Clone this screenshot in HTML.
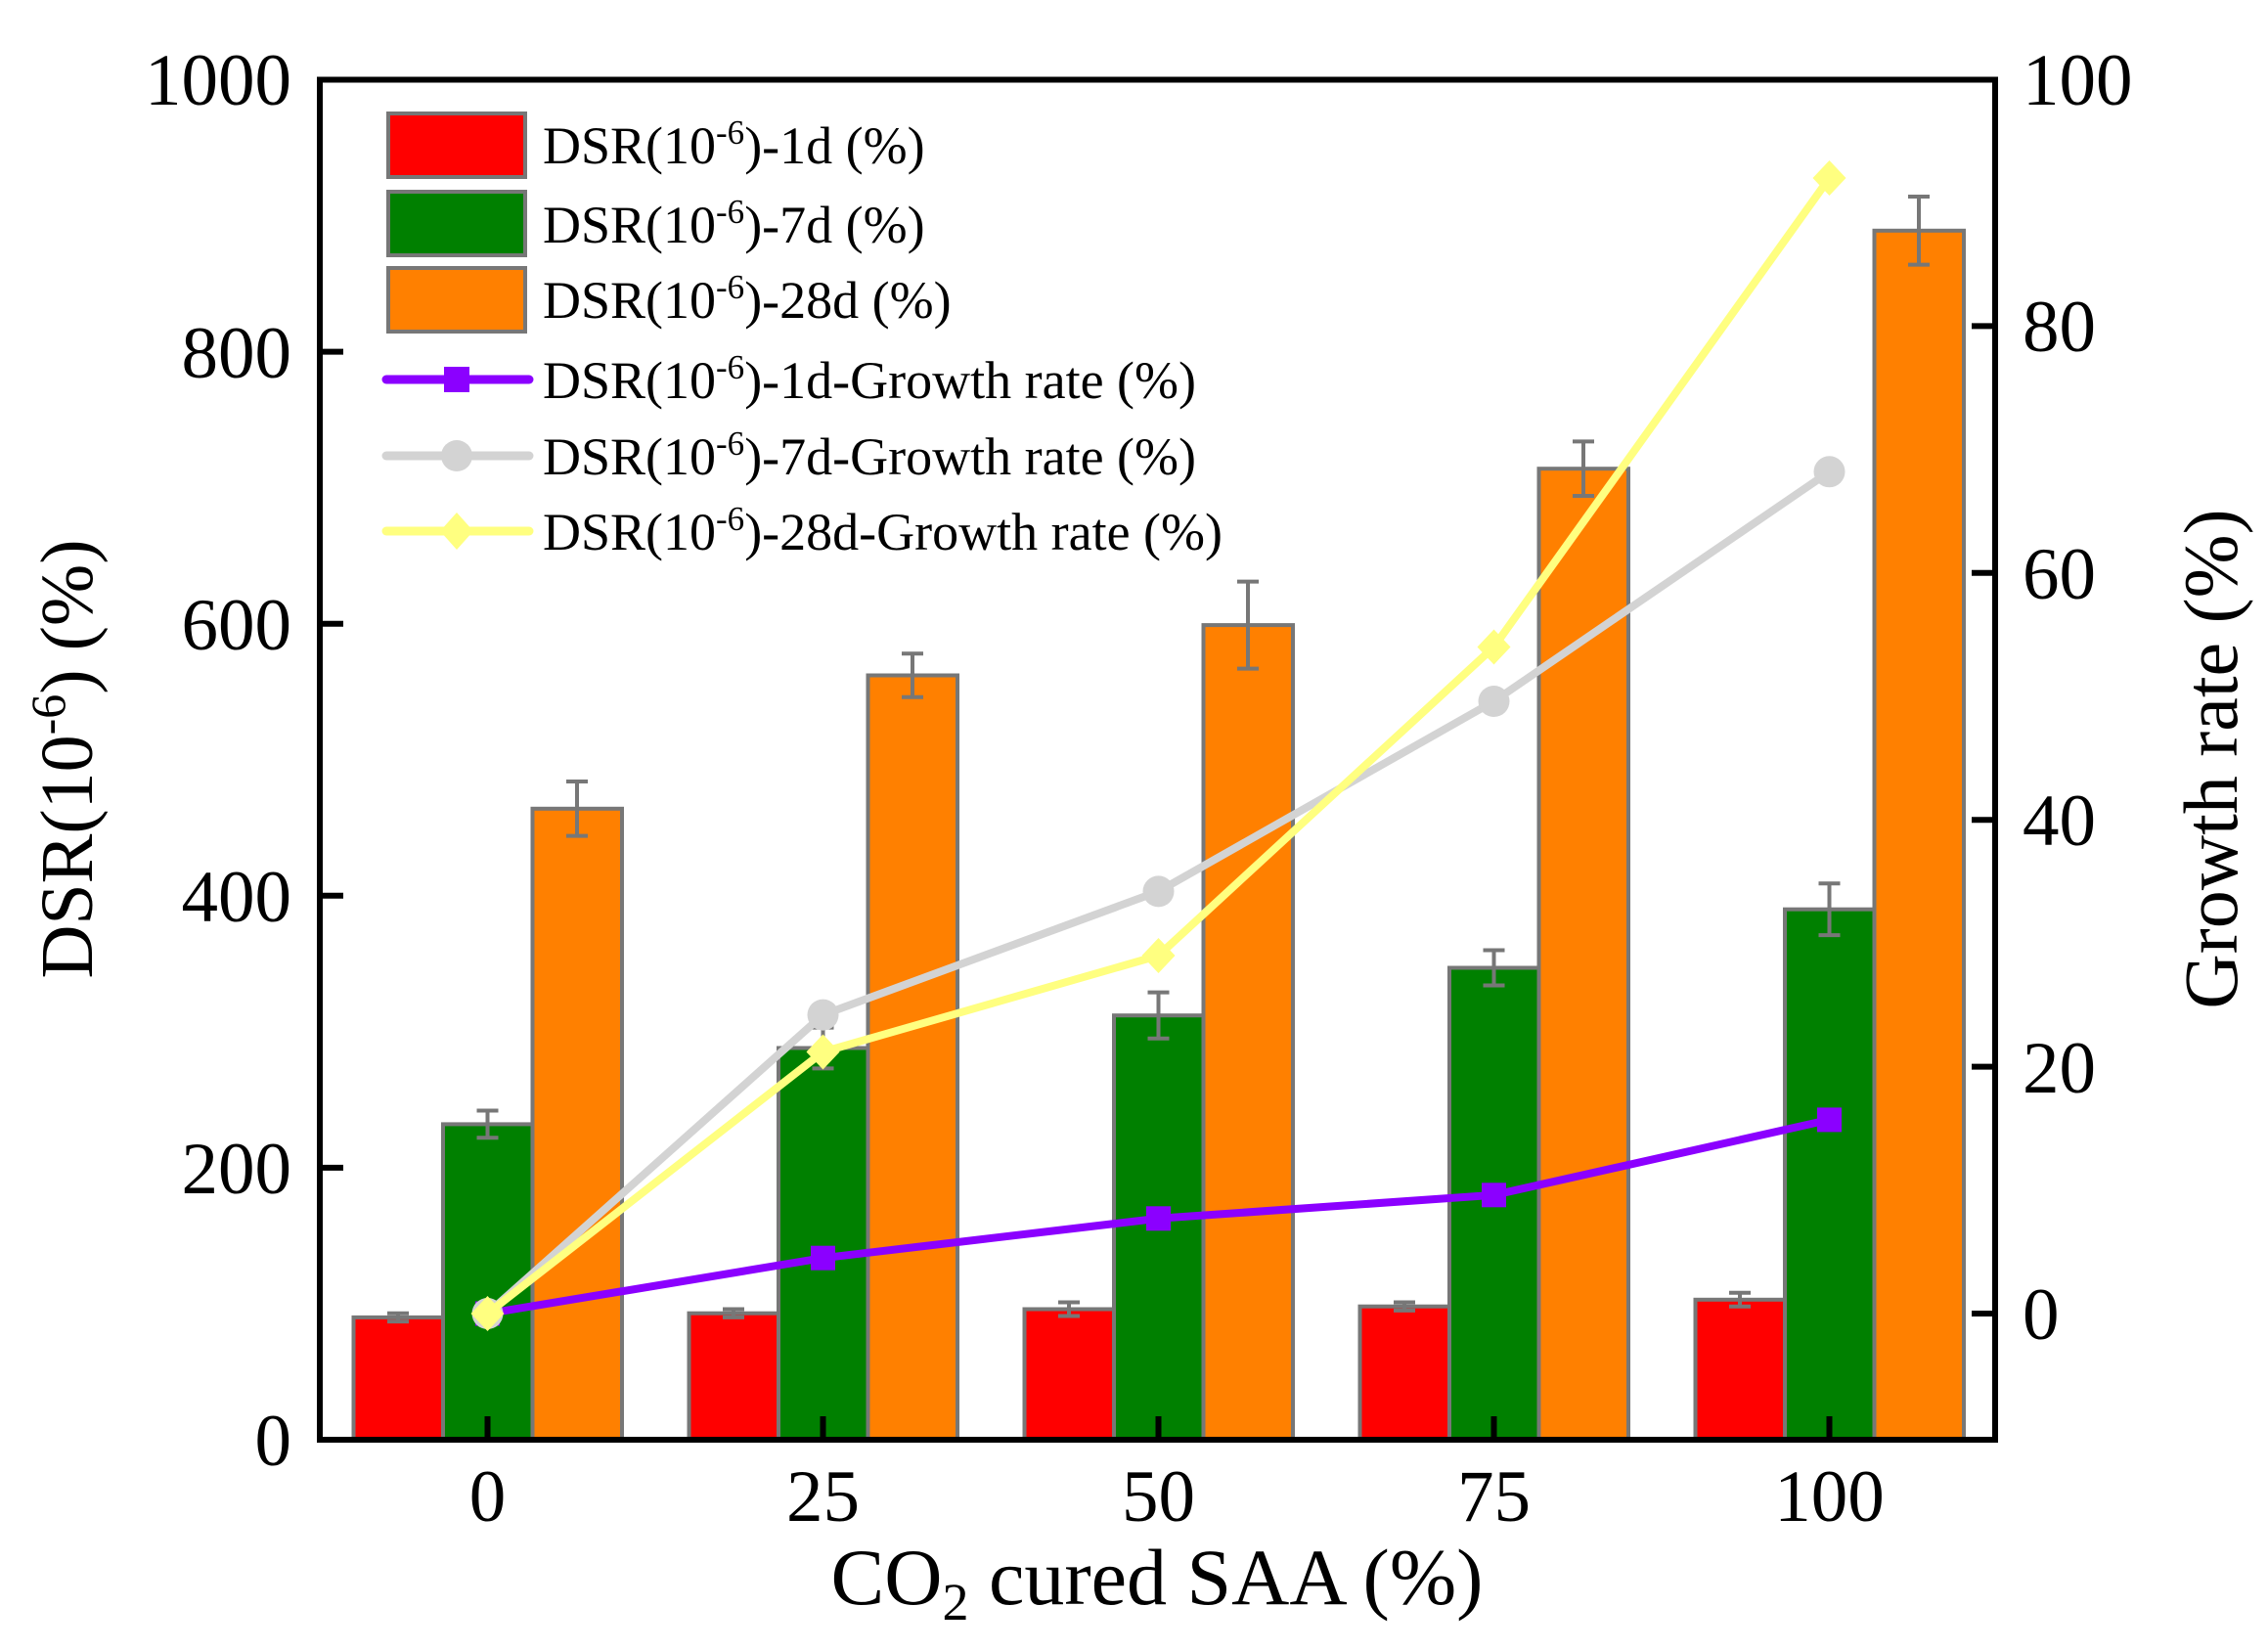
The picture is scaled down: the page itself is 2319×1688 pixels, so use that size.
<!DOCTYPE html>
<html><head><meta charset="utf-8"><style>
html,body{margin:0;padding:0;background:#fff}
svg{display:block}
text{font-family:"Liberation Serif",serif;fill:#000}
</style></head><body>
<svg width="2319" height="1688" viewBox="0 0 2319 1688" xmlns="http://www.w3.org/2000/svg">
<g stroke="#777" stroke-width="4">
<rect x="361.5" y="1346.9" width="91.5" height="125.1" fill="#ff0000"/>
<rect x="704.5" y="1342.7" width="91.5" height="129.3" fill="#ff0000"/>
<rect x="1047.5" y="1338.5" width="91.5" height="133.5" fill="#ff0000"/>
<rect x="1390.5" y="1335.7" width="91.5" height="136.3" fill="#ff0000"/>
<rect x="1733.5" y="1328.8" width="91.5" height="143.2" fill="#ff0000"/>
<rect x="453" y="1149.4" width="91.5" height="322.6" fill="#008000"/>
<rect x="796" y="1071.5" width="91.5" height="400.5" fill="#008000"/>
<rect x="1139" y="1038.2" width="91.5" height="433.8" fill="#008000"/>
<rect x="1482" y="989.5" width="91.5" height="482.5" fill="#008000"/>
<rect x="1825" y="929.7" width="91.5" height="542.3" fill="#008000"/>
<rect x="544.5" y="826.8" width="91.5" height="645.2" fill="#ff8000"/>
<rect x="887.5" y="690.5" width="91.5" height="781.5" fill="#ff8000"/>
<rect x="1230.5" y="639.1" width="91.5" height="832.9" fill="#ff8000"/>
<rect x="1573.5" y="479.2" width="91.5" height="992.8" fill="#ff8000"/>
<rect x="1916.5" y="235.8" width="91.5" height="1236.2" fill="#ff8000"/>
</g>
<g stroke="#777" stroke-width="4" fill="none">
<path d="M407 1342.7V1351.1M396 1342.7h22M396 1351.1h22"/>
<path d="M750 1338.5V1346.9M739 1338.5h22M739 1346.9h22"/>
<path d="M1093 1331.5V1345.5M1082 1331.5h22M1082 1345.5h22"/>
<path d="M1436 1331.5V1339.9M1425 1331.5h22M1425 1339.9h22"/>
<path d="M1779 1321.8V1335.8M1768 1321.8h22M1768 1335.8h22"/>
<path d="M498.5 1135.5V1163.3M487.5 1135.5h22M487.5 1163.3h22"/>
<path d="M841.5 1050.6V1092.4M830.5 1050.6h22M830.5 1092.4h22"/>
<path d="M1184.5 1014.6V1061.8M1173.5 1014.6h22M1173.5 1061.8h22"/>
<path d="M1527.5 971.5V1007.5M1516.5 971.5h22M1516.5 1007.5h22"/>
<path d="M1870.5 903.3V956.1M1859.5 903.3h22M1859.5 956.1h22"/>
<path d="M590 799V854.6M579 799h22M579 854.6h22"/>
<path d="M933 668.3V712.7M922 668.3h22M922 712.7h22"/>
<path d="M1276 594.6V683.6M1265 594.6h22M1265 683.6h22"/>
<path d="M1619 451.4V507M1608 451.4h22M1608 507h22"/>
<path d="M1962 201V270.6M1951 201h22M1951 270.6h22"/>
</g>
<polyline points="498.5,1343 841.5,1286.2 1184.5,1245.8 1527.5,1221.8 1870.5,1144.9" fill="none" stroke="#8b00ff" stroke-width="8" stroke-linejoin="round"/>
<g fill="#8b00ff">
<rect x="486" y="1330.5" width="25" height="25"/><rect x="829" y="1273.7" width="25" height="25"/><rect x="1172" y="1233.3" width="25" height="25"/><rect x="1515" y="1209.3" width="25" height="25"/><rect x="1858" y="1132.4" width="25" height="25"/>
</g>
<polyline points="498.5,1343 841.5,1037.6 1184.5,911.4 1527.5,717 1870.5,482.3" fill="none" stroke="#d3d3d3" stroke-width="8" stroke-linejoin="round"/>
<g fill="#d3d3d3">
<circle cx="498.5" cy="1343" r="16"/><circle cx="841.5" cy="1037.6" r="16"/><circle cx="1184.5" cy="911.4" r="16"/><circle cx="1527.5" cy="717" r="16"/><circle cx="1870.5" cy="482.3" r="16"/>
</g>
<polyline points="498.5,1343 841.5,1075.5 1184.5,977 1527.5,661.5 1870.5,182" fill="none" stroke="#ffff80" stroke-width="8" stroke-linejoin="round"/>
<g fill="#ffff80">
<path d="M498.5 1325l17 18-17 18-17-18z"/><path d="M841.5 1057.5l17 18-17 18-17-18z"/><path d="M1184.5 959l17 18-17 18-17-18z"/><path d="M1527.5 643.5l17 18-17 18-17-18z"/><path d="M1870.5 164l17 18-17 18-17-18z"/>
</g>
<rect x="327" y="81.5" width="1713" height="1390.5" fill="none" stroke="#000" stroke-width="6"/>
<g stroke="#000" stroke-width="6">
<path d="M327 1193.9h24M327 915.8h24M327 637.7h24M327 359.6h24"/>
<path d="M2040 1343h-24M2040 1090.6h-24M2040 838.2h-24M2040 585.8h-24M2040 333.4h-24"/>
<path d="M498.5 1472v-24M841.5 1472v-24M1184.5 1472v-24M1527.5 1472v-24M1870.5 1472v-24"/>
</g>
<g font-size="75" text-anchor="end">
<text x="298" y="1498">0</text><text x="298" y="1220">200</text><text x="298" y="942">400</text><text x="298" y="664">600</text><text x="298" y="386">800</text><text x="298" y="107">1000</text>
</g>
<g font-size="75">
<text x="2068" y="1369">0</text><text x="2068" y="1117">20</text><text x="2068" y="864">40</text><text x="2068" y="612">60</text><text x="2068" y="359">80</text><text x="2068" y="107">100</text>
</g>
<g font-size="75" text-anchor="middle">
<text x="498.5" y="1555">0</text><text x="841.5" y="1555">25</text><text x="1184.5" y="1555">50</text><text x="1527.5" y="1555">75</text><text x="1870.5" y="1555">100</text>
</g>
<text x="1183" y="1640" font-size="82" text-anchor="middle">CO<tspan font-size="54" dy="16">2</tspan><tspan dy="-16"> cured SAA (%)</tspan></text>
<text transform="translate(94,776) rotate(-90)" font-size="76" text-anchor="middle">DSR(10<tspan font-size="50" dy="-28">-6</tspan><tspan dy="28">) (%)</tspan></text>
<text transform="translate(2287,776) rotate(-90)" font-size="78" text-anchor="middle">Growth rate (%)</text>
<g stroke="#777" stroke-width="4">
<rect x="397" y="116" width="140" height="65" fill="#ff0000"/>
<rect x="397" y="196" width="140" height="65" fill="#008000"/>
<rect x="397" y="274" width="140" height="65" fill="#ff8000"/>
</g>
<path d="M395 388h146" stroke="#8b00ff" stroke-width="9" stroke-linecap="round"/>
<rect x="454" y="375" width="26" height="26" fill="#8b00ff"/>
<path d="M395 466h146" stroke="#d3d3d3" stroke-width="9" stroke-linecap="round"/>
<circle cx="467" cy="466" r="16" fill="#d3d3d3"/>
<path d="M395 543h146" stroke="#ffff80" stroke-width="9" stroke-linecap="round"/>
<path d="M467 524l17 19-17 19-17-19z" fill="#ffff80"/>
<g font-size="54">
<text x="555" y="167">DSR(10<tspan font-size="35" dy="-20">-6</tspan><tspan dy="20">)-1d (%)</tspan></text>
<text x="555" y="248">DSR(10<tspan font-size="35" dy="-20">-6</tspan><tspan dy="20">)-7d (%)</tspan></text>
<text x="555" y="325">DSR(10<tspan font-size="35" dy="-20">-6</tspan><tspan dy="20">)-28d (%)</tspan></text>
<text x="555" y="407">DSR(10<tspan font-size="35" dy="-20">-6</tspan><tspan dy="20">)-1d-Growth rate (%)</tspan></text>
<text x="555" y="485">DSR(10<tspan font-size="35" dy="-20">-6</tspan><tspan dy="20">)-7d-Growth rate (%)</tspan></text>
<text x="555" y="562">DSR(10<tspan font-size="35" dy="-20">-6</tspan><tspan dy="20">)-28d-Growth rate (%)</tspan></text>
</g>
</svg>
</body></html>
